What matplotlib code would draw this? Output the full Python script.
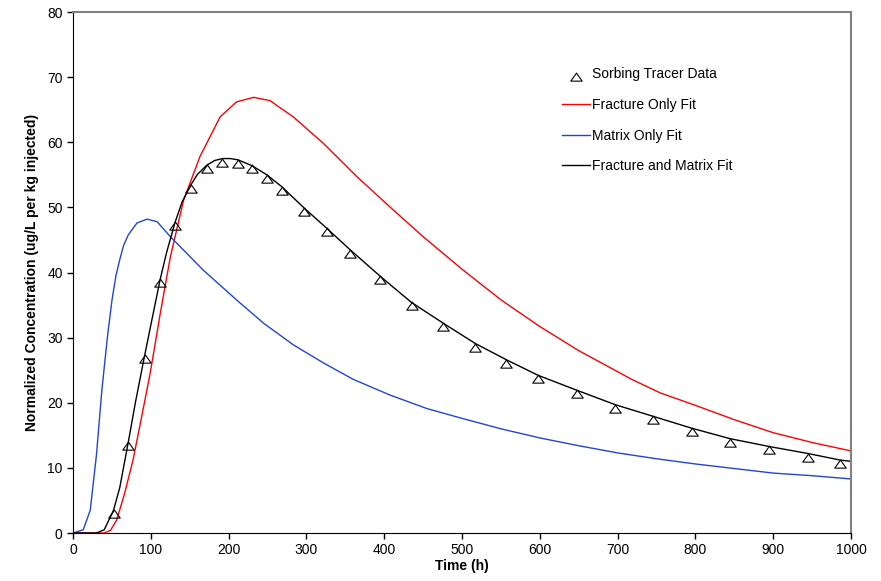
import numpy as np
import matplotlib
matplotlib.use("Agg")
import matplotlib.pyplot as plt
from matplotlib.path import Path

plt.rcParams["font.family"] = ["Liberation Sans", "DejaVu Sans"]

# sorbing tracer data
t_data = [11, 32, 52, 71, 92, 112, 131, 151, 172, 192, 212, 230, 249, 268,
          297, 326, 356, 395, 435, 476, 517, 557, 598, 648, 697, 746, 795,
          844, 894, 945, 986]
c_data = [0, 0, 3.5, 14.0, 27.3, 39.0, 47.7, 53.4, 56.5, 57.4, 57.3, 56.5,
          55.0, 53.2, 49.9, 46.8, 43.5, 39.4, 35.4, 32.2, 29.1, 26.6, 24.2,
          21.9, 19.7, 17.9, 16.1, 14.5, 13.3, 12.2, 11.2]

# fracture only fit
t_frac = [0, 40, 48, 56, 66, 77, 88, 99, 112, 125, 142, 163, 189, 210, 232,
          253, 283, 322, 365, 407, 450, 500, 550, 600, 650, 718, 755, 800,
          850, 900, 950, 1000]
c_frac = [0, 0, 0.4, 2.0, 6.0, 11.2, 17.8, 24.5, 33.7, 42.4, 51.1, 57.8,
          63.9, 66.2, 66.9, 66.4, 63.9, 59.8, 54.7, 50.1, 45.5, 40.5, 35.8,
          31.7, 28.0, 23.6, 21.5, 19.6, 17.4, 15.4, 13.9, 12.6]

# matrix only fit
t_mat = [0, 13, 22, 30, 37, 44, 50, 55, 60, 65, 71, 82, 95, 108, 125, 167,
         210, 245, 283, 322, 360, 407, 455, 500, 550, 600, 650, 700, 750,
         800, 850, 900, 950, 1000]
c_mat = [0, 0.5, 3.5, 12.0, 22.0, 30.0, 35.8, 39.5, 42.0, 44.2, 45.8, 47.6,
         48.2, 47.8, 45.5, 40.4, 35.8, 32.2, 28.9, 26.1, 23.6, 21.2, 19.1,
         17.6, 16.0, 14.6, 13.4, 12.3, 11.4, 10.6, 9.9, 9.2, 8.8, 8.3]

# fracture and matrix fit
t_both = [0, 30, 40, 52, 60, 71, 80, 92, 100, 112, 120, 131, 140, 151, 160,
          172, 182, 192, 202, 212, 230, 249, 268, 297, 326, 356, 395, 435,
          476, 517, 557, 598, 648, 697, 746, 795, 844, 894, 945, 986, 1000]
c_both = [0, 0, 0.5, 3.5, 7.0, 14.0, 20.0, 27.3, 32.0, 39.0, 43.0, 47.7,
          50.8, 53.4, 55.1, 56.5, 57.2, 57.5, 57.5, 57.3, 56.4, 55.0, 53.2,
          49.9, 46.8, 43.5, 39.4, 35.4, 32.2, 29.1, 26.6, 24.2, 21.9, 19.7,
          17.9, 16.1, 14.5, 13.3, 12.2, 11.2, 11.0]

# open triangle hanging below the data point
tri = Path([(0, 0.05), (0.75, -1.0), (-0.75, -1.0), (0, 0.05)],
           [Path.MOVETO, Path.LINETO, Path.LINETO, Path.CLOSEPOLY])

fig = plt.figure(figsize=(8.81, 5.81), dpi=100)
ax = fig.add_axes([0.083, 0.0826, 0.883, 0.8967])

ax.plot(t_data, c_data, linestyle="none", marker=tri, markersize=11,
        markerfacecolor="none", markeredgecolor="black", markeredgewidth=0.8,
        label="Sorbing Tracer Data", zorder=4)
ax.plot(t_frac, c_frac, color="#ff0000", lw=1.0, label="Fracture Only Fit")
ax.plot(t_mat, c_mat, color="#2047d0", lw=1.0, label="Matrix Only Fit")
ax.plot(t_both, c_both, color="black", lw=1.0, label="Fracture and Matrix Fit")

ax.set_xlim(0, 1000)
ax.set_ylim(0, 80)
ax.set_xticks(np.arange(0, 1001, 100))
ax.set_yticks(np.arange(0, 81, 10))
ax.tick_params(direction="out", length=4, width=1, labelsize=10, colors="black")

ax.set_xlabel("Time (h)", fontsize=10, fontweight="bold", labelpad=1)
ax.set_ylabel("Normalized Concentration (ug/L per kg injected)", fontsize=10,
              fontweight="bold", labelpad=6)

ax.spines["top"].set_color("#808080")
ax.spines["right"].set_color("#808080")
ax.spines["top"].set_linewidth(1.5)
ax.spines["right"].set_linewidth(1.5)

ax.legend(loc="upper left", bbox_to_anchor=(0.613, 0.918), frameon=False,
          fontsize=10, handlelength=2.0, labelspacing=1.2, handletextpad=0.15)

plt.savefig("out.png", dpi=100)
